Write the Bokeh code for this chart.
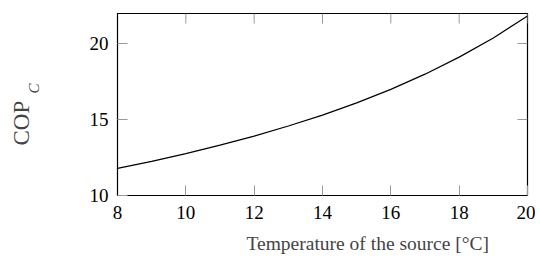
from bokeh.plotting import figure
from bokeh.models import Range1d, Title, FixedTicker
from bokeh.embed import file_html
from bokeh.resources import INLINE

temperature = [8, 9, 10, 11, 12, 13, 14, 15, 16, 17, 18, 19, 20]
cop_c = [11.78, 12.25, 12.75, 13.31, 13.91, 14.57, 15.29, 16.09, 16.98, 17.98, 19.10, 20.36, 21.81]
x_ticks = [8, 10, 12, 14, 16, 18, 20]
y_ticks = [10, 15, 20]

FONT = "Liberation Serif"
X0, X1, Y0, Y1 = 8, 20, 10, 21.97
FW, FH = 410, 182

p = figure(frame_width=FW, frame_height=FH, output_backend="svg", toolbar_location=None,
           x_range=Range1d(X0, X1), y_range=Range1d(Y0, Y1),
           min_border_left=117, min_border_right=8, min_border_top=13, min_border_bottom=67)
p.line(temperature, cop_c, line_color="black", line_width=1.2)

p.grid.visible = False
p.outline_line_color = "black"
p.outline_line_width = 1.2

for ax, ticks in ((p.xaxis[0], x_ticks), (p.yaxis[0], y_ticks)):
    ax.ticker = FixedTicker(ticks=ticks)
    ax.major_tick_in = 10
    ax.major_tick_out = 0
    ax.minor_tick_in = 0
    ax.minor_tick_out = 0
    ax.major_tick_line_color = "#999999"
    ax.axis_line_color = "black"
    ax.major_label_text_font = FONT
    ax.major_label_text_font_size = "19px"
    ax.major_label_text_color = "black"

p.xaxis[0].major_label_standoff = 10
p.yaxis[0].major_label_standoff = 9

# mirrored ticks on the top and right edges
tick_dy = 10 * (Y1 - Y0) / FH
tick_dx = 10 * (X1 - X0) / FW
p.segment(x0=x_ticks, y0=[Y1] * len(x_ticks), x1=x_ticks, y1=[Y1 - tick_dy] * len(x_ticks),
          line_color="#999999", line_width=1)
p.segment(x0=[X1] * len(y_ticks), y0=y_ticks, x1=[X1 - tick_dx] * len(y_ticks), y1=y_ticks,
          line_color="#999999", line_width=1)

p.add_layout(Title(text="C\n\n", text_font=FONT, text_font_style="italic", text_font_size="15px",
                   align="left", vertical_align="bottom", offset=102, standoff=25), "left")
p.add_layout(Title(text="COP", text_font=FONT, text_font_style="normal", text_font_size="23px",
                   align="left", vertical_align="bottom", offset=50, standoff=-45), "left")
p.add_layout(Title(text="Temperature of the source [°C]", text_font=FONT,
                   text_font_style="normal", text_font_size="19.5px",
                   align="left", offset=129, standoff=19), "below")

open("out.html", "w").write(file_html(p, INLINE))
